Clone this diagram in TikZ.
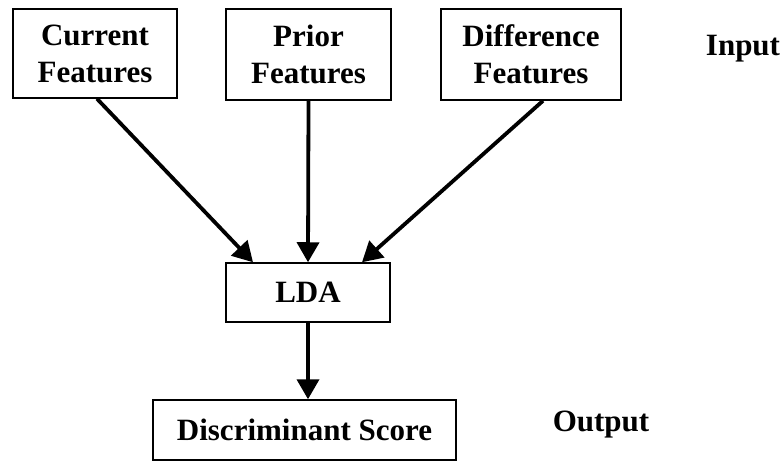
\documentclass[tikz,border=0pt]{standalone}
\usepackage{fontspec}
\setmainfont{Liberation Serif}
\usetikzlibrary{arrows.meta,calc}
\begin{document}
\begin{tikzpicture}[x=1pt,y=-1pt,
  box/.style={draw=black,line width=1.5pt,fill=white,rectangle,inner sep=0pt,
    font=\fontsize{31}{37}\selectfont\bfseries,align=center},
  lbl/.style={inner sep=0pt,font=\fontsize{31}{37}\selectfont\bfseries},
  arr/.style={line width=3.8pt,-{Triangle[length=20pt,width=22pt]}}]
\useasboundingbox (0,0) rectangle (783,461);
\node[box,minimum width=164pt,minimum height=89pt] (cur) at (95,53.5) {Current\\Features};
\node[box,minimum width=165pt,minimum height=91pt] (pri) at (308.5,54.5) {Prior\\Features};
\node[box,minimum width=180pt,minimum height=91pt] (dif) at (531,54.5) {Difference\\Features};
\node[lbl] (inp) at (743,49) {Input};
\node[box,minimum width=164pt,minimum height=59pt] (lda) at (308,292.5) {LDA};
\node[box,minimum width=303pt,minimum height=60pt] (dis) at (304.5,430) {Discriminant Score};
\node[lbl] (out) at (601,425) {Output};
\draw[arr] ([xshift=2pt]cur.south) -- ([xshift=-55pt]lda.north);
\draw[arr] (pri.south) -- (lda.north);
\draw[arr] ([xshift=12pt]dif.south) -- ([xshift=54pt]lda.north);
\draw[arr] (lda.south) -- ([xshift=3.5pt]dis.north);
\end{tikzpicture}
\end{document}
